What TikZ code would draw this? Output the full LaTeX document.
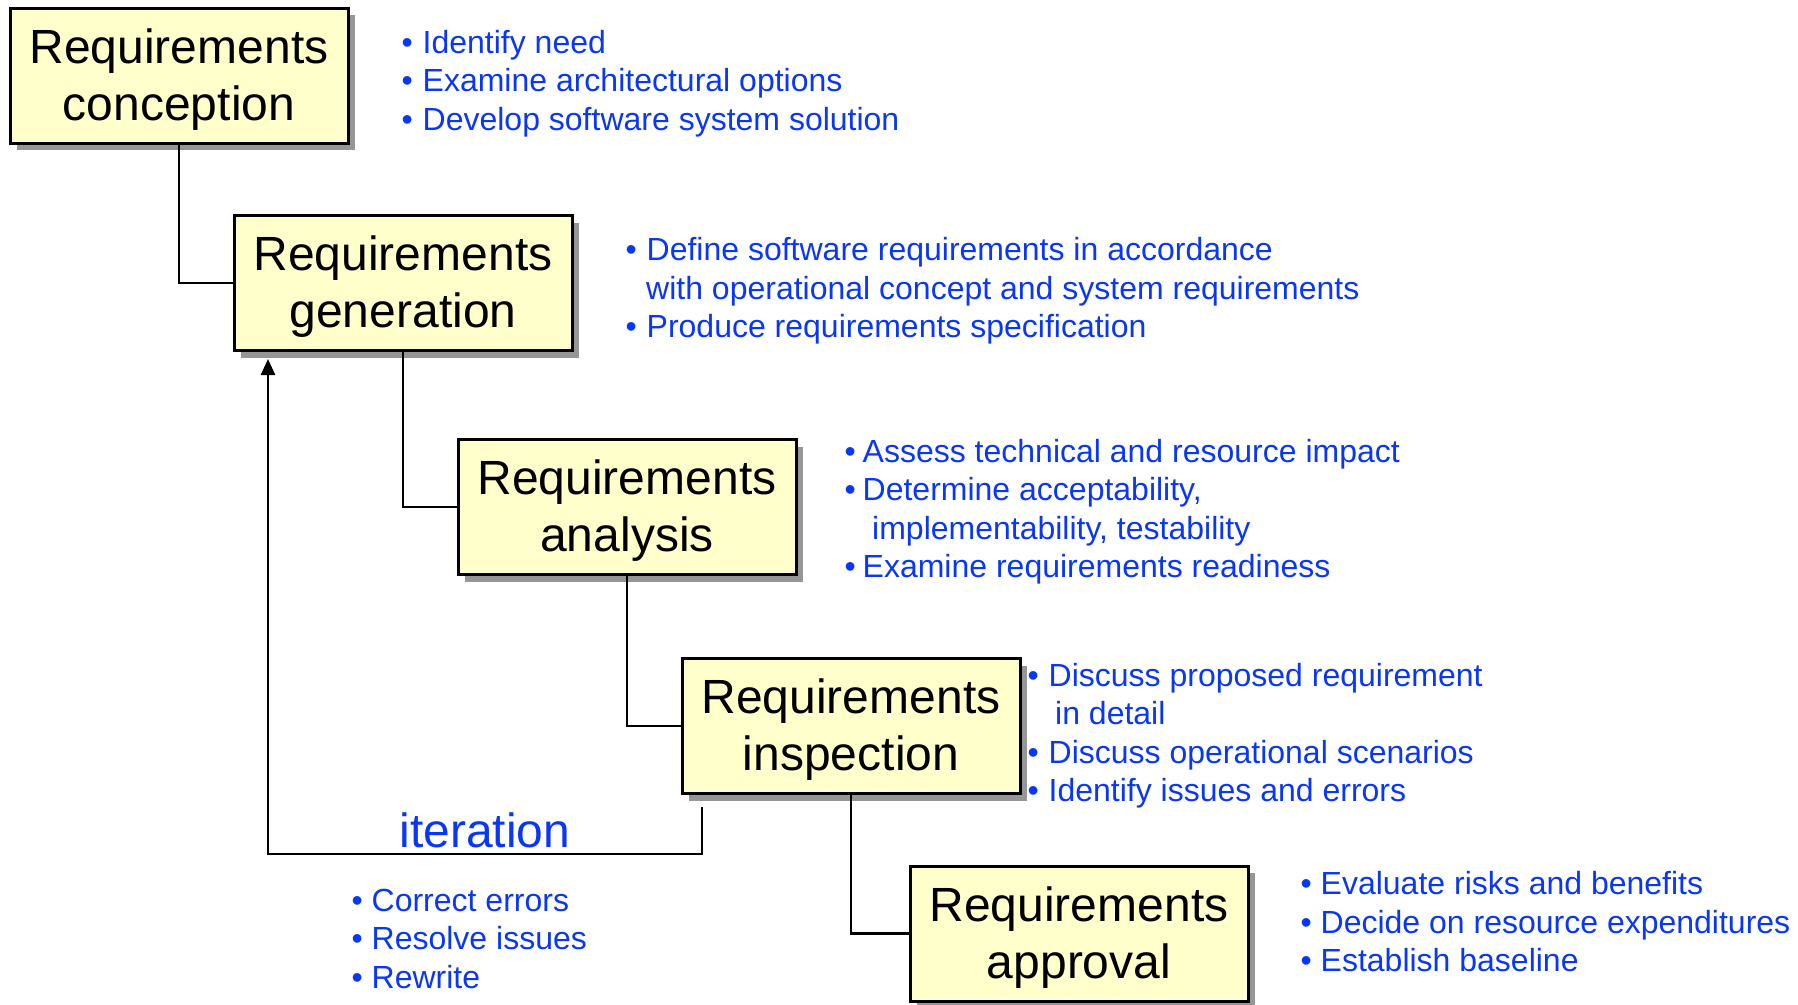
\documentclass[tikz,border=0pt]{standalone}
\usepackage{fontspec}
\setmainfont{Liberation Sans}
\usetikzlibrary{shadows,arrows.meta}
\definecolor{boxyellow}{RGB}{255,255,204}
\definecolor{bluetext}{RGB}{10,55,245}
\definecolor{shadowgray}{RGB}{150,150,150}
\tikzset{
  reqbox/.style={draw=black, line width=3pt, fill=boxyellow,
    minimum width=338pt, minimum height=135pt, inner sep=0pt, align=center,
    font=\fontsize{48}{57}\selectfont,
    drop shadow={shadow xshift=7pt, shadow yshift=-7pt, fill=shadowgray, opacity=1}},
  link/.style={line width=2.5pt, draw=black},
  btxt/.style={inner sep=0pt, anchor=base west, text=bluetext,
    font=\fontsize{32}{38}\selectfont},
}
\newcommand\bul[1]{\makebox[#1][l]{\textbullet}}
\newcommand\tup{\rule{0pt}{42pt}}
\begin{document}
\begin{tikzpicture}[x=1pt,y=-1pt]
\useasboundingbox[fill=white] (0,0) rectangle (1798,1004);

% boxes
\node[reqbox] (b1) at (179,75.5) {\tup Requirements\\conception};
\node[reqbox] (b2) at (403,283) {\tup Requirements\\generation};
\node[reqbox] (b3) at (627,507) {\tup Requirements\\analysis};
\node[reqbox] (b4) at (851,726) {\tup Requirements\\inspection};
\node[reqbox] (b5) at (1079,933.5) {\tup Requirements\\approval};

% connectors
\draw[link] (b1.south) |- (b2.west);
\draw[link] (b2.south) |- (b3.west);
\draw[link] (b3.south) |- (b4.west);
\draw[link] (b4.south) |- (b5.west);

% iteration loop
\coordinate (itA) at (702,807);
\coordinate (itB) at (268,854);
\draw[link, -{Triangle[length=16pt,width=14pt]}, shorten >=7pt]
  (itA) |- (itB) -- (itB |- b2.south);
\node[inner sep=0pt, anchor=base, text=bluetext, font=\fontsize{48}{57}\selectfont]
  (itlabel) at (485,847) {iteration};

% block 1
\node[btxt] (t1a) at (401.5,53) {\bul{21pt}Identify need};
\node[btxt] (t1b) at (401.5,91.5) {\bul{21pt}Examine architectural options};
\node[btxt] (t1c) at (401.5,130) {\bul{21pt}Develop software system solution};

% block 2
\node[btxt] (t2a) at (625.5,260) {\bul{21pt}Define software requirements in accordance};
\node[btxt] (t2b) at (646,299) {with operational concept and system requirements};
\node[btxt] (t2c) at (625.5,337) {\bul{21pt}Produce requirements specification};

% block 3
\node[btxt] (t3a) at (844.5,462) {\bul{18pt}Assess technical and resource impact};
\node[btxt] (t3b) at (844.5,500.5) {\bul{18pt}Determine acceptability,};
\node[btxt] (t3c) at (872,539) {implementability, testability};
\node[btxt] (t3d) at (844.5,577.5) {\bul{18pt}Examine requirements readiness};

% block 4
\node[btxt] (t4a) at (1027.5,686) {\bul{21pt}Discuss proposed requirement};
\node[btxt] (t4b) at (1055,724.5) {in detail};
\node[btxt] (t4c) at (1027.5,763) {\bul{21pt}Discuss operational scenarios};
\node[btxt] (t4d) at (1027.5,801.5) {\bul{21pt}Identify issues and errors};

% block 5
\node[btxt] (t5a) at (1300.5,894.5) {\bul{20pt}Evaluate risks and benefits};
\node[btxt] (t5b) at (1300.5,933) {\bul{20pt}Decide on resource expenditures};
\node[btxt] (t5c) at (1300.5,971.5) {\bul{20pt}Establish baseline};

% iteration block
\node[btxt] (t6a) at (351.5,911) {\bul{20pt}Correct errors};
\node[btxt] (t6b) at (351.5,949.5) {\bul{20pt}Resolve issues};
\node[btxt] (t6c) at (351.5,988) {\bul{20pt}Rewrite};
\end{tikzpicture}
\end{document}
